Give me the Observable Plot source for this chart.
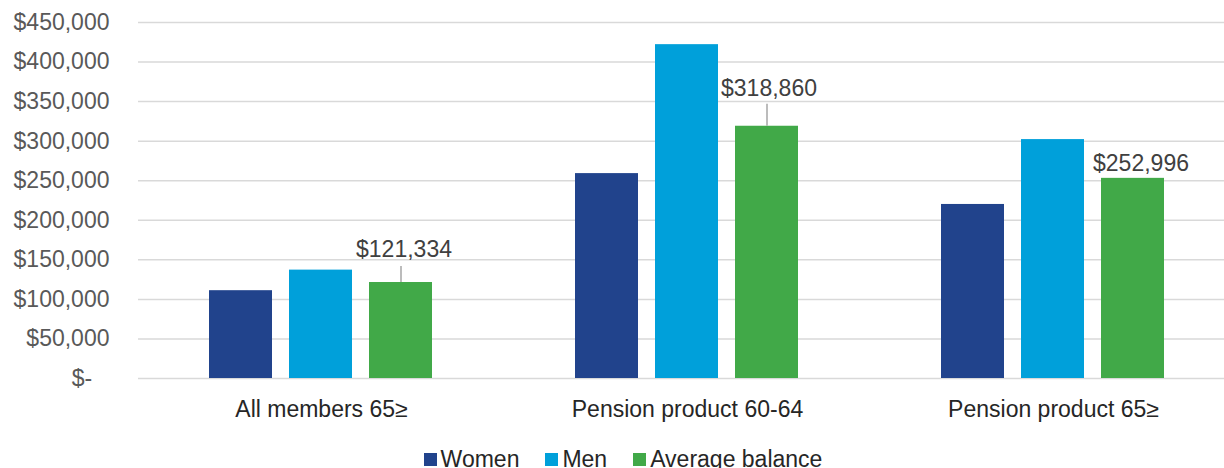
<!DOCTYPE html>
<html>
<head>
<meta charset="utf-8">
<script src="https://cdn.jsdelivr.net/npm/d3@7"></script>
<script src="https://cdn.jsdelivr.net/npm/@observablehq/plot@0.6"></script>
<style>
  html, body { margin: 0; padding: 0; background: #fff; }
  #chart svg { display: block; }
  .legend { display: flex; justify-content: center; padding-left: 22px; margin-top: 8px;
    font-family: "Liberation Sans", Arial, sans-serif; font-size: 23px; line-height: 22px; color: #262626; }
  .legend .item { display: flex; align-items: center; margin: 0 13px; }
  .legend .sw { width: 13px; height: 13px; margin-right: 4px; display: inline-block; }
</style>
</head>
<body>
<div id="chart"></div>
<div class="legend" id="legend"></div>
<script>
const categories = ["All members 65≥", "Pension product 60-64", "Pension product 65≥"];
const series = ["Women", "Men", "Average balance"];
const women = [111000, 259000, 220000];
const men = [137000, 422000, 302000];
const average = [121334, 318860, 252996];
const yTicks = [0, 50000, 100000, 150000, 200000, 250000, 300000, 350000, 400000, 450000];
const colors = ["#21438C", "#00A0DA", "#41A948"];

// annotation layout (pixel offsets of the data labels and leader lengths)
const labelLayout = [
  {dx: 3, dy: -33, leader: 16},
  {dx: 2, dy: -38, leader: 22},
  {dx: 8, dy: -15, leader: 0}
];

const rows = categories.flatMap((c, i) => [
  {category: c, series: "Women", value: women[i]},
  {category: c, series: "Men", value: men[i]},
  {category: c, series: "Average balance", value: average[i]}
]);
const avgRows = categories.map((c, i) => ({category: c, series: "Average balance", value: average[i]}));

const fmtMoney = d => d === 0 ? "$-\u00a0\u00a0\u2009" : "$" + d3.format(",")(d);

const labelMarks = avgRows.flatMap((r, i) => {
  const L = labelLayout[i];
  const m = [Plot.text([r], {fx: "category", x: "series", y: "value", text: d => "$" + d3.format(",")(d.value),
    dx: L.dx, dy: L.dy, fontSize: 23, fill: "#404040"})];
  if (L.leader > 0) m.push(Plot.ruleX([r], {fx: "category", x: "series", y1: "value", y2: "value",
    insetTop: -L.leader, stroke: "#a6a6a6", strokeWidth: 1.5}));
  return m;
});

const chart = Plot.plot({
  width: 1224,
  height: 440,
  marginLeft: 137,
  marginRight: 0,
  marginTop: 22,
  marginBottom: 62,
  style: {fontFamily: "'Liberation Sans', Arial, sans-serif", fontSize: "23px", background: "#fff"},
  fx: {domain: categories, range: [137, 1237], padding: 0, axis: null, label: null},
  x: {domain: series, paddingInner: 0.21, paddingOuter: 0.867, axis: null},
  y: {domain: [0, 450000], axis: null},
  color: {domain: series, range: colors},
  marks: [
    Plot.gridY(yTicks, {stroke: "#d9d9d9", strokeOpacity: 1, strokeWidth: 1.5}),
    Plot.barY(rows, {fx: "category", x: "series", y: "value", fill: "series"}),
    Plot.axisY(yTicks, {tickSize: 0, tickPadding: 29, tickFormat: fmtMoney, fontSize: 23, fill: "#595959", label: null}),
    Plot.axisFx({anchor: "bottom", tickSize: 0, tickPadding: 22, fontSize: 23, fill: "#262626", label: null}),
    ...labelMarks
  ]
});
document.getElementById("chart").appendChild(chart);

const legend = document.getElementById("legend");
series.forEach((s, i) => {
  const item = document.createElement("span");
  item.className = "item";
  const sw = document.createElement("span");
  sw.className = "sw";
  sw.style.background = colors[i];
  item.appendChild(sw);
  item.appendChild(document.createTextNode(s));
  legend.appendChild(item);
});
</script>
</body>
</html>
